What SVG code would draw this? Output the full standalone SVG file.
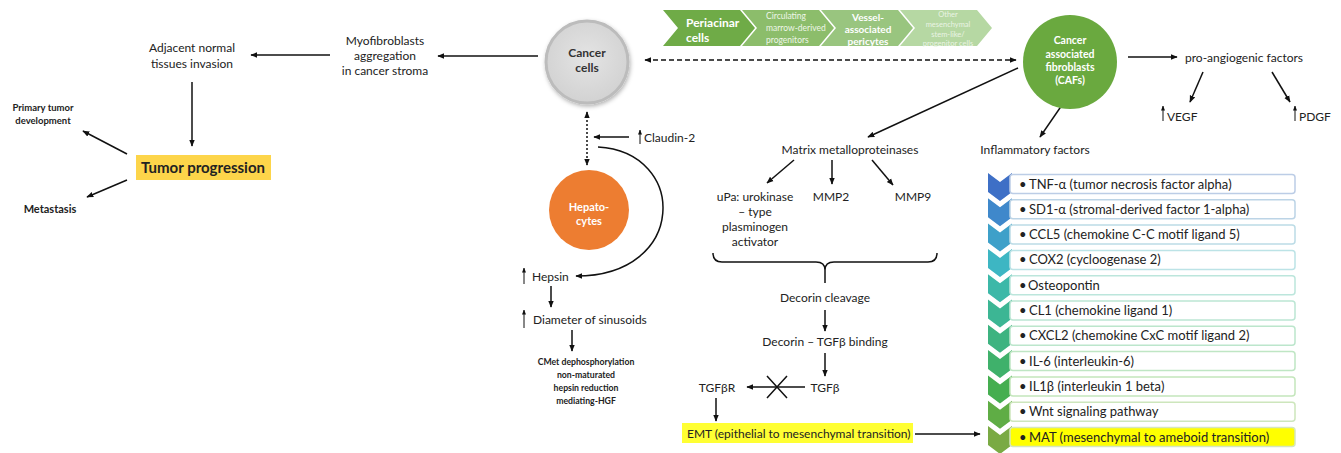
<svg xmlns="http://www.w3.org/2000/svg" width="1341" height="453" viewBox="0 0 1341 453">
<style>
text{font-family:Lato,"Liberation Sans",Arial,sans-serif;fill:#222;}
.t{font-size:12px;}
.tc{font-size:12px;text-anchor:middle;}
.b{font-weight:bold;}
.ln{stroke:#111;stroke-width:1.5;fill:none;}
.arr{stroke:#111;stroke-width:1.5;fill:none;marker-end:url(#ah);}
.up{stroke:#111;stroke-width:1;fill:none;marker-end:url(#ahs);}
.li{font-size:13px;fill:#222;}
.box{fill:#fff;stroke-width:1.5;}
.cw{fill:#fff;text-anchor:middle;font-weight:bold;}
.wl{fill:#fff;font-weight:bold;}
.pale{fill:#eef6e8;}
.pale2{fill:#eaf4e3;text-anchor:middle;}
.dk{fill:#333;text-anchor:middle;font-weight:bold;}
</style>
<defs>
<marker id="ah" viewBox="0 0 10 10" refX="9" refY="5" markerWidth="7" markerHeight="7" markerUnits="userSpaceOnUse" orient="auto-start-reverse"><path d="M0,1 L10,5 L0,9 z" fill="#111"/></marker>
<marker id="ahs" viewBox="0 0 10 10" refX="9" refY="5" markerWidth="5" markerHeight="5" markerUnits="userSpaceOnUse" orient="auto"><path d="M0,1 L10,5 L0,9 z" fill="#111"/></marker>
<radialGradient id="gGray" cx="50%" cy="45%" r="55%"><stop offset="0" stop-color="#e4e4e4"/><stop offset="1" stop-color="#d2d2d2"/></radialGradient>
<filter id="sh" x="-30%" y="-30%" width="160%" height="160%"><feDropShadow dx="1" dy="2" stdDeviation="2" flood-color="#000" flood-opacity="0.3"/></filter>
</defs>

<g id="connectors">
<line class="arr" x1="330" y1="55" x2="251" y2="55"/>
<line class="arr" x1="538" y1="56" x2="438" y2="56"/>
<line class="arr" x1="192" y1="82" x2="192" y2="146"/>
<line class="arr" x1="127" y1="154" x2="83" y2="131"/>
<line class="arr" x1="127" y1="180" x2="87" y2="197"/>
<line x1="645" y1="60" x2="1016" y2="60" stroke="#111" stroke-width="1.5" stroke-dasharray="5 3" marker-start="url(#ah)" marker-end="url(#ah)"/>
<line x1="587" y1="112" x2="587" y2="165" stroke="#111" stroke-width="1.5" stroke-dasharray="2 2" marker-start="url(#ah)" marker-end="url(#ah)"/>
<line class="arr" x1="629" y1="137" x2="594" y2="137"/>
<path class="arr" d="M598,147 C688,152 688,276 576,276"/>
<line class="arr" x1="551" y1="286" x2="551" y2="307"/>
<line class="arr" x1="572" y1="330" x2="572" y2="351"/>
<line class="arr" x1="1018" y1="68" x2="868" y2="137"/>
<line class="arr" x1="1062" y1="105" x2="1040" y2="137"/>
<line class="arr" x1="1128" y1="57" x2="1177" y2="57"/>
<line class="arr" x1="1203" y1="72" x2="1190" y2="102"/>
<line class="arr" x1="1272" y1="72" x2="1290" y2="102"/>
<line class="arr" x1="794" y1="160" x2="767" y2="183"/>
<line class="arr" x1="832" y1="160" x2="832" y2="184"/>
<line class="arr" x1="872" y1="160" x2="893" y2="185"/>
<path class="ln" d="M713,253 Q713,262 722,262 L816,262 Q825,262 825,270 Q825,262 834,262 L928,262 Q937,262 937,253 M825,270 L825,283"/>
<line class="arr" x1="825" y1="310" x2="825" y2="331"/>
<line class="arr" x1="825" y1="353" x2="825" y2="376"/>
<line class="arr" x1="805" y1="387" x2="747" y2="387"/>
<path class="ln" d="M767,376 L787,398 M787,376 L767,398"/>
<line class="arr" x1="716" y1="398" x2="716" y2="421"/>
<line class="arr" x1="915" y1="434" x2="980" y2="434"/>
<line class="up" x1="640" y1="144" x2="640" y2="130"/>
<line class="up" x1="524" y1="284" x2="524" y2="268"/>
<line class="up" x1="524" y1="328" x2="524" y2="310"/>
<line class="up" x1="1163" y1="121" x2="1163" y2="106"/>
<line class="up" x1="1295" y1="121" x2="1295" y2="106"/>
</g>

<g id="adjacent"><text class="tc" x="192" y="52">Adjacent normal</text><text class="tc" x="192" y="68">tissues invasion</text></g>
<g id="myofibroblasts"><text class="tc" x="385" y="45">Myofibroblasts</text><text class="tc" x="385" y="60">aggregation</text><text class="tc" x="385" y="75">in cancer stroma</text></g>
<g id="tumor-progression"><rect x="136" y="155" width="135" height="25" fill="#fdd54a"/><text x="203" y="172.5" text-anchor="middle" font-size="15" font-weight="bold">Tumor progression</text></g>
<g id="primary"><text class="b" x="43" y="111" font-size="9.5" text-anchor="middle">Primary tumor</text><text class="b" x="43" y="124" font-size="9.5" text-anchor="middle">development</text></g>
<g id="metastasis"><text class="b" x="50" y="213" font-size="11" text-anchor="middle">Metastasis</text></g>

<g id="cancer-cells"><circle cx="587" cy="62" r="41" fill="url(#gGray)" stroke="#bcbcbc" stroke-width="3" filter="url(#sh)"/><text class="dk" x="587" y="57" font-size="12">Cancer</text><text class="dk" x="587" y="72" font-size="12">cells</text></g>

<g id="chevrons">
<polygon points="663,10 740,10 755,28 740,46 663,46 678,28" fill="#6fab47"/>
<polygon points="742,10 819,10 834,28 819,46 742,46 757,28" fill="#8cbd6b"/>
<polygon points="821,10 898,10 913,28 898,46 821,46 836,28" fill="#99c57f"/>
<polygon points="900,10 977,10 992,28 977,46 900,46 915,28" fill="#b6d8a3"/>
<text class="wl" x="686" y="27" font-size="12">Periacinar</text>
<text class="wl" x="686" y="42" font-size="12">cells</text>
<text class="pale" x="766" y="19" font-size="8.5">Circulating</text>
<text class="pale" x="766" y="31" font-size="8.5">marrow-derived</text>
<text class="pale" x="766" y="43" font-size="8.5">progenitors</text>
<text class="cw" x="868" y="21" font-size="10">Vessel-</text>
<text class="cw" x="868" y="33" font-size="10">associated</text>
<text class="cw" x="868" y="45" font-size="10">pericytes</text>
<text class="pale2" x="948" y="17" font-size="7.5">Other</text>
<text class="pale2" x="948" y="27" font-size="7.5">mesenchymal</text>
<text class="pale2" x="948" y="37" font-size="7.5">stem-like/</text>
<text class="pale2" x="948" y="46" font-size="7.5">progenitor cells</text>
</g>

<g id="cafs"><circle cx="1070" cy="62" r="47" fill="#6aa93f"/>
<text class="cw" x="1070" y="44" font-size="10.5">Cancer</text>
<text class="cw" x="1070" y="58" font-size="10.5">associated</text>
<text class="cw" x="1070" y="71" font-size="10.5">fibroblasts</text>
<text class="cw" x="1070" y="84" font-size="10.5">(CAFs)</text></g>

<g id="pro-angiogenic"><text class="tc" x="1244" y="62">pro-angiogenic factors</text></g>
<g id="vegf"><text class="t" x="1167" y="121">VEGF</text></g>
<g id="pdgf"><text class="t" x="1299" y="121">PDGF</text></g>

<g id="claudin"><text class="t" x="644" y="142">Claudin-2</text></g>
<g id="hepatocytes"><circle cx="589" cy="210" r="40" fill="#ed7d31"/><text class="cw" x="589" y="211" font-size="11">Hepato-</text><text class="cw" x="589" y="225" font-size="11">cytes</text></g>
<g id="hepsin"><text class="t" x="532" y="281">Hepsin</text></g>
<g id="diameter"><text class="t" x="533" y="324">Diameter of sinusoids</text></g>
<g id="cmet"><text x="586" y="365" font-size="8.7" font-weight="bold" text-anchor="middle">CMet dephosphorylation</text><text x="586" y="378" font-size="8.7" font-weight="bold" text-anchor="middle">non-maturated</text><text x="586" y="391" font-size="8.7" font-weight="bold" text-anchor="middle">hepsin reduction</text><text x="586" y="404" font-size="8.7" font-weight="bold" text-anchor="middle">mediating-HGF</text></g>

<g id="mmp"><text class="tc" x="850" y="154">Matrix metalloproteinases</text></g>
<g id="inflammatory"><text class="tc" x="1035" y="154">Inflammatory factors</text></g>
<g id="upa"><text class="tc" x="755" y="201">uPa: urokinase</text><text class="tc" x="755" y="216">– type</text><text class="tc" x="755" y="231">plasminogen</text><text class="tc" x="755" y="246">activator</text></g>
<g id="mmp2"><text class="tc" x="831" y="201">MMP2</text></g>
<g id="mmp9"><text class="tc" x="913" y="201">MMP9</text></g>
<g id="decorin-cleavage"><text class="tc" x="825" y="302">Decorin cleavage</text></g>
<g id="decorin-binding"><text class="tc" x="825" y="346">Decorin – TGFβ binding</text></g>
<g id="tgfb"><text class="tc" x="825" y="392">TGFβ</text></g>
<g id="tgfbr"><text class="tc" x="717" y="392">TGFβR</text></g>
<g id="emt"><rect x="682" y="423" width="231" height="20" fill="#ffff33"/><text class="t" x="687" y="437.5" font-size="11.5">EMT (epithelial  to mesenchymal transition)</text></g>

<g id="factor-list">
<polygon points="988,173 1000,182 1012,173 1012,192 1000,201 988,192" fill="#3e6fc6"/>
<polygon points="988,198.3 1000,207.3 1012,198.3 1012,217.3 1000,226.3 988,217.3" fill="#3f88cb"/>
<polygon points="988,223.6 1000,232.6 1012,223.6 1012,242.6 1000,251.6 988,242.6" fill="#3ea0c9"/>
<polygon points="988,248.9 1000,257.9 1012,248.9 1012,267.9 1000,276.9 988,267.9" fill="#3db6c3"/>
<polygon points="988,274.2 1000,283.2 1012,274.2 1012,293.2 1000,302.2 988,293.2" fill="#3cb8a8"/>
<polygon points="988,299.5 1000,308.5 1012,299.5 1012,318.5 1000,327.5 988,318.5" fill="#3cb694"/>
<polygon points="988,324.8 1000,333.8 1012,324.8 1012,343.8 1000,352.8 988,343.8" fill="#3db380"/>
<polygon points="988,350.1 1000,359.1 1012,350.1 1012,369.1 1000,378.1 988,369.1" fill="#3fb16b"/>
<polygon points="988,375.4 1000,384.4 1012,375.4 1012,394.4 1000,403.4 988,394.4" fill="#45ae50"/>
<polygon points="988,400.7 1000,409.7 1012,400.7 1012,419.7 1000,428.7 988,419.7" fill="#5fad45"/>
<polygon points="988,426 1000,435 1012,426 1012,445 1000,454 988,445" fill="#7aaa44"/>
<rect class="box" x="1010" y="174.5" width="285" height="19" rx="3" stroke="#bccde6"/>
<rect class="box" x="1010" y="199.8" width="285" height="19" rx="3" stroke="#bcd4e6"/>
<rect class="box" x="1010" y="225.1" width="285" height="19" rx="3" stroke="#bcdce6"/>
<rect class="box" x="1010" y="250.4" width="285" height="19" rx="3" stroke="#bce3e6"/>
<rect class="box" x="1010" y="275.7" width="285" height="19" rx="3" stroke="#bce6dc"/>
<rect class="box" x="1010" y="301" width="285" height="19" rx="3" stroke="#bce6d4"/>
<rect class="box" x="1010" y="326.3" width="285" height="19" rx="3" stroke="#bce6cc"/>
<rect class="box" x="1010" y="351.6" width="285" height="19" rx="3" stroke="#bfe6c4"/>
<rect class="box" x="1010" y="376.9" width="285" height="19" rx="3" stroke="#c4e6bc"/>
<rect class="box" x="1010" y="402.2" width="285" height="19" rx="3" stroke="#cde6bc"/>
<rect x="1010" y="427.5" width="285" height="19" rx="3" fill="#ffff00" stroke="#d5e6bc" stroke-width="1.5"/>
<text class="li" x="1019" y="188.5">•<tspan x="1029">TNF-α (tumor necrosis factor alpha)</tspan></text>
<text class="li" x="1019" y="213.8">•<tspan x="1029">SD1-α (stromal-derived  factor 1-alpha)</tspan></text>
<text class="li" x="1019" y="239.1">•<tspan x="1029">CCL5 (chemokine C-C motif ligand 5)</tspan></text>
<text class="li" x="1019" y="264.4">•<tspan x="1029">COX2 (cycloogenase  2)</tspan></text>
<text class="li" x="1019" y="289.7">•<tspan x="1028">Osteopontin</tspan></text>
<text class="li" x="1019" y="315">•<tspan x="1029">CL1 (chemokine ligand 1)</tspan></text>
<text class="li" x="1019" y="340.3">•<tspan x="1029">CXCL2 (chemokine CxC motif ligand 2)</tspan></text>
<text class="li" x="1019" y="365.6">•<tspan x="1029">IL-6 (interleukin-6)</tspan></text>
<text class="li" x="1019" y="390.9">•<tspan x="1029">IL1β (interleukin  1 beta)</tspan></text>
<text class="li" x="1019" y="416.2">•<tspan x="1029">Wnt signaling pathway</tspan></text>
<text class="li" x="1019" y="441.5">•<tspan x="1029">MAT (mesenchymal to ameboid transition)</tspan></text>
</g>
</svg>
